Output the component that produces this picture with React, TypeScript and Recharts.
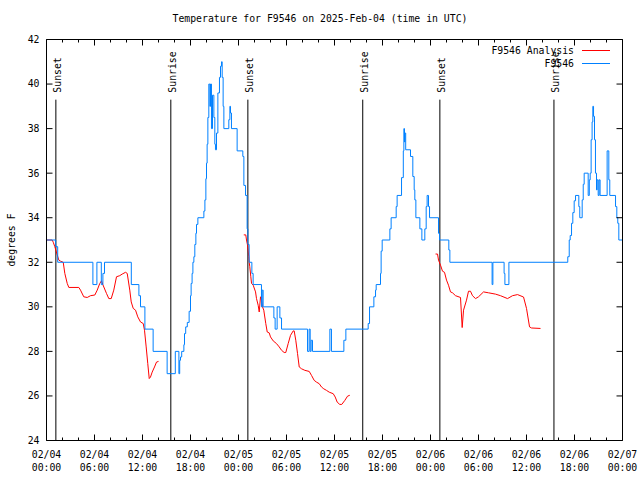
import { LineChart, Line, XAxis, YAxis, ReferenceLine, Legend } from 'recharts'

const FONT = '"DejaVu Sans Mono", "Liberation Mono", monospace'
const TEXT_SIZE = 9.8

// hours since 02/04 00:00 UTC
const xTicks = [0, 2, 4, 6, 8, 10, 12, 14, 16, 18, 20, 22, 24, 26, 28, 30, 32, 34, 36, 38, 40, 42, 44, 46, 48, 50, 52, 54, 56, 58, 60, 62, 64, 66, 68, 70, 72]
const yTicks = [24, 26, 28, 30, 32, 34, 36, 38, 40, 42]

const sunLabels = ['Sunset', 'Sunrise', 'Sunset', 'Sunrise', 'Sunset', 'Sunrise']
const sunTimes = [1.17, 15.54, 25.17, 39.53, 49.17, 63.43]
const sunLineTop = 39.3

// station obs (step changes)
const obsTimes = [
  0, 1.15, 1.4, 5.8, 6.3, 6.85, 7.05, 7.25, 10.6, 11.55, 11.75, 12.3, 13.33, 15.08, 16.1, 16.55, 16.65, 16.75, 16.9,
  17.17, 17.25, 17.4, 17.6, 17.83, 18.0, 18.08, 18.2, 18.3, 18.42, 18.54, 18.67, 18.75, 18.92, 19.67, 19.8, 19.92,
  20.0, 20.08, 20.17, 20.29, 20.42, 20.5, 20.62, 20.75, 20.92, 21.04, 21.12, 21.25, 21.42, 21.62, 21.75, 21.88, 21.96,
  22.08, 22.17, 22.79, 22.92, 23.0, 23.12, 23.83, 24.54, 24.67, 24.88, 25.08, 25.17, 25.33, 25.67, 25.83, 26.87, 26.96,
  27.08, 28.42, 28.58, 28.83, 29.17, 29.38, 32.63, 32.83, 32.96, 33.08, 33.25, 35.42, 35.62, 37.17, 37.42, 40.21, 40.38,
  40.92, 41.13, 41.21, 41.75, 41.83, 41.96, 42.92, 43.08, 43.71, 43.83, 44.38, 44.6, 44.67, 44.75, 44.8, 44.9, 45.5,
  45.79, 45.96, 46.04, 46.17, 46.67, 46.92, 47.29, 47.46, 47.58, 47.75, 47.88, 49.0, 49.13, 50.29, 50.42, 55.7, 55.8,
  57.2, 57.3, 57.8, 65.16, 65.34, 65.46, 65.63, 65.79, 65.96, 66.13, 66.54, 66.66, 66.96, 67.09, 67.21, 67.71, 67.85,
  67.96, 68.08, 68.2, 68.29, 68.38, 68.5, 68.62, 68.75, 68.83, 68.96, 69.08, 69.2, 70.08, 70.29, 70.41, 71.13, 71.29,
  71.41, 71.54, 72,
]
const obsTemps = [
  33, 32.7, 32, 31, 32, 31, 31.5, 32, 31, 30.5, 30, 29, 28, 27, 28, 27, 27.6, 27.75, 28,
  28.3, 28.8, 29.1, 29.3, 29.8, 30.5, 31.05, 31.5, 32, 32.25, 32.8, 33.3, 33.7, 34, 34.3, 34.8, 35.75,
  36.45, 37.3, 38.5, 40, 39, 40, 38, 39.5, 38.5, 37.3, 37.05, 37.8, 39.6, 40.3, 40.8, 41, 40.3,
  39, 38, 38.4, 39, 38.7, 38, 37, 36.75, 35.45, 35, 33.5, 32.8, 32, 31.5, 31, 30, 30.75,
  30, 29.5, 29, 30, 29.5, 29, 28, 29, 28, 28.5, 28, 29, 28, 28.5, 29, 29.25, 30,
  30.45, 30.75, 31, 31.5, 32.5, 33, 33.5, 34, 34.5, 35, 35.8, 37, 38, 37.4, 37.8, 37.05, 36.75,
  35.85, 35.25, 34.8, 34, 33.5, 33, 33.5, 34.5, 35, 34.5, 34, 33.3, 33, 32.55, 32, 31, 32,
  31.5, 31, 32, 32.25, 33, 33.2, 33.75, 34.23, 34.76, 35, 34.5, 34, 34.8, 35.5, 36, 35, 35.7,
  36, 37.5, 38.3, 39, 38.55, 37.5, 36, 35.25, 35.7, 35, 35.7, 35, 37, 35.7, 35, 34.5, 34,
  33.75, 33, 33,
]

// analysis, null breaks the line
const anaTimes = [
  0, 0.71, 0.84, 1.04, 1.34, 1.54, 1.75, 2.09, 2.29, 2.59, 2.79, 4.04, 4.25, 4.66, 5.09, 5.5, 6.04, 6.34, 6.66, 6.88,
  7.04, 7.5, 7.79, 8.09, 8.41, 8.75, 9.16, 9.46, 9.88, 10.09, 10.41, 10.59, 10.84, 11.13, 11.41, 11.75, 12.09, 12.25,
  12.46, 12.66, 12.84, 13.0, 13.21, 13.5, 13.75, 14.0, 14.05,
  24.66, 24.91, 25.0, 25.13, 25.29, 25.34, 25.41, 25.54, 25.63, 25.84, 26.13, 26.25, 26.46, 26.59, 26.75, 26.88, 27.0,
  27.16, 27.41, 27.59, 27.84, 28.0, 28.34, 28.75, 29.09, 29.38, 29.71, 29.91, 30.21, 30.5, 30.84, 30.96, 31.16, 31.38,
  31.59, 31.88, 32.29, 32.84, 33.13, 33.46, 33.75, 34.09, 34.38, 34.66, 35.0, 35.34, 35.84, 36.09, 36.34, 36.66, 36.91,
  37.29, 37.63, 37.91, 37.95,
  48.63, 48.88, 49.0, 49.25, 49.5, 49.75, 50.0, 50.25, 50.5, 50.75, 51.13, 51.75, 51.96, 52.13, 52.5, 52.75, 53.0,
  53.25, 53.63, 54.0, 54.63, 55.25, 56.13, 56.75, 57.63, 58.25, 58.88, 59.63, 60.0, 60.38, 60.63, 61.75,
]
const anaTemps = [
  33, 33, 32.9, 32.7, 32.33, 32.1, 32.05, 32, 31.5, 31.05, 30.87, 30.87, 30.75, 30.45, 30.42, 30.5, 30.53, 30.75, 31.05, 31.17,
  31, 30.6, 30.37, 30.37, 30.75, 31.35, 31.4, 31.47, 31.55, 31.5, 30.75, 30.22, 29.93, 29.85, 29.55, 29.32, 29.25, 28.95,
  28.2, 27.45, 26.78, 26.85, 27.07, 27.3, 27.52, 27.55, null,
  33.23, 33.23, 33, 32.77, 32.25, 32, 31.8, 31.35, 31.05, 30.97, 30.67, 30.37, 30.07, 29.77, 30.45, 30.3, 30,
  29.85, 29.25, 28.87, 28.83, 28.65, 28.47, 28.35, 28.2, 28.05, 27.95, 27.95, 28.35, 28.72, 28.92, 28.92, 28.5, 27.9,
  27.3, 27.22, 27.15, 27.1, 26.92, 26.7, 26.62, 26.55, 26.4, 26.32, 26.25, 26.17, 26.1, 25.95, 25.72, 25.62, 25.62,
  25.8, 25.99, 26.03, null,
  32.37, 32.37, 32.1, 31.87, 31.6, 31.55, 31.2, 30.97, 30.67, 30.63, 30.5, 30.42, 29.07, 29.85, 30.3, 30.7, 30.7,
  30.5, 30.37, 30.45, 30.67, 30.63, 30.57, 30.5, 30.37, 30.5, 30.55, 30.44, 29.93, 29.1, 29.05, 29.03,
]

const obsData = obsTimes.map((t, i) => ({ t, v: obsTemps[i] }))
const anaData = anaTimes.map((t, i) => ({ t, v: anaTemps[i] }))

const pad = (n: number) => (n < 10 ? '0' + n : '' + n)

function BottomTick({ x, y, payload }: any) {
  const t = payload.value
  const major = t % 6 === 0
  const day = 4 + Math.floor(t / 24)
  return (
    <g>
      <line x1={x} x2={x} y1={y} y2={y - (major ? 6 : 3)} stroke="#000" />
      {major && (
        <text x={x} y={y} textAnchor="middle" fontFamily={FONT} fontSize={TEXT_SIZE} fill="#000">
          <tspan x={x} dy={17}>{`02/${pad(day)}`}</tspan>
          <tspan x={x} dy={13}>{`${pad(t % 24)}:00`}</tspan>
        </text>
      )}
    </g>
  )
}

function TopTick({ x, y, payload }: any) {
  const major = payload.value % 6 === 0
  return <line x1={x} x2={x} y1={y} y2={y + (major ? 6 : 3)} stroke="#000" />
}

function LeftTick({ x, y, payload }: any) {
  return (
    <g>
      <line x1={x} x2={x + 6} y1={y} y2={y} stroke="#000" />
      <text x={x - 7} y={y} dy="0.35em" textAnchor="end" fontFamily={FONT} fontSize={TEXT_SIZE} fill="#000">
        {payload.value}
      </text>
    </g>
  )
}

function RightTick({ x, y }: any) {
  return <line x1={x} x2={x - 6} y1={y} y2={y} stroke="#000" />
}

function sunLabel(text: string) {
  return ({ viewBox }: any) => {
    const cx = viewBox.x + 1.5
    const cy = viewBox.y - 7
    return (
      <text
        x={cx}
        y={cy}
        transform={`rotate(-90 ${cx} ${cy})`}
        dominantBaseline="central"
        fontFamily={FONT}
        fontSize={TEXT_SIZE}
        fill="#000"
      >
        {text}
      </text>
    )
  }
}

function yLabel({ viewBox }: any) {
  const cx = viewBox.x + viewBox.width - 35.5
  const cy = viewBox.y + viewBox.height / 2
  return (
    <text
      x={cx}
      y={cy}
      transform={`rotate(-90 ${cx} ${cy})`}
      textAnchor="middle"
      dominantBaseline="central"
      fontFamily={FONT}
      fontSize={TEXT_SIZE}
      fill="#000"
    >
      degrees F
    </text>
  )
}

function KeyBox({ payload }: any) {
  // analysis first, as in the key of the original
  const rows = [...(payload || [])].sort((a: any, b: any) => b.value.length - a.value.length)
  return (
    <div style={{ width: 640, fontFamily: FONT, fontSize: TEXT_SIZE, color: '#000' }}>
      {rows.map((entry: any) => (
        <div
          key={entry.value}
          style={{ display: 'flex', justifyContent: 'flex-end', alignItems: 'center', height: 13, paddingRight: 30 }}
        >
          <span style={{ lineHeight: '13px' }}>{entry.value}</span>
          <svg width={36} height={13} style={{ display: 'block' }}>
            <line x1={8} x2={36} y1={6.5} y2={6.5} stroke={entry.color} />
          </svg>
        </div>
      ))}
    </div>
  )
}

export default function App() {
  return (
    <div style={{ position: 'absolute', left: 0, top: 0, width: 640, height: 480, background: '#fff' }}>
      <div
        style={{
          position: 'absolute',
          top: 13,
          left: 0,
          width: 640,
          textAlign: 'center',
          fontFamily: FONT,
          fontSize: TEXT_SIZE,
          lineHeight: '12px',
          color: '#000',
        }}
      >
        Temperature for F9546 on 2025-Feb-04 (time in UTC)
      </div>
      <LineChart width={640} height={480} margin={{ top: 29.5, right: 7.5, bottom: 9.5, left: 6.5 }}>
        <XAxis
          type="number"
          dataKey="t"
          domain={[0, 72]}
          ticks={xTicks}
          interval={0}
          height={30}
          tickSize={0}
          tickMargin={0}
          tickLine={false}
          tick={BottomTick}
          axisLine={{ stroke: '#000' }}
          allowDataOverflow
        />
        <XAxis
          xAxisId="top"
          orientation="top"
          type="number"
          dataKey="t"
          domain={[0, 72]}
          ticks={xTicks}
          interval={0}
          height={10}
          tickSize={0}
          tickMargin={0}
          tickLine={false}
          tick={TopTick}
          axisLine={{ stroke: '#000' }}
          allowDataOverflow
        />
        <YAxis
          type="number"
          domain={[24, 42]}
          ticks={yTicks}
          interval={0}
          width={40}
          tickSize={0}
          tickMargin={0}
          tickLine={false}
          tick={LeftTick}
          axisLine={{ stroke: '#000' }}
          label={{ value: 'degrees F', content: yLabel }}
          allowDataOverflow
        />
        <YAxis
          yAxisId="right"
          orientation="right"
          type="number"
          domain={[24, 42]}
          ticks={yTicks}
          interval={0}
          width={10}
          tickSize={0}
          tickMargin={0}
          tickLine={false}
          tick={RightTick}
          axisLine={{ stroke: '#000' }}
          allowDataOverflow
        />
        {sunTimes.map((t, i) => (
          <ReferenceLine
            key={`sun-${i}`}
            segment={[
              { x: t, y: 24 },
              { x: t, y: sunLineTop },
            ]}
            stroke="#000"
            strokeWidth={1}
            label={{ value: sunLabels[i], content: sunLabel(sunLabels[i]) }}
          />
        ))}
        <Line
          data={anaData}
          dataKey="v"
          name="F9546 Analysis"
          type="linear"
          stroke="#ff0000"
          strokeWidth={1}
          dot={false}
          activeDot={false}
          connectNulls={false}
          isAnimationActive={false}
        />
        <Line
          data={obsData}
          dataKey="v"
          name="F9546"
          type="stepAfter"
          stroke="#0080ff"
          strokeWidth={1}
          dot={false}
          activeDot={false}
          isAnimationActive={false}
        />
        <Legend
          layout="vertical"
          align="center"
          verticalAlign="middle"
          content={KeyBox}
          wrapperStyle={{ top: 44, left: 0, width: 640 }}
        />
      </LineChart>
    </div>
  )
}
